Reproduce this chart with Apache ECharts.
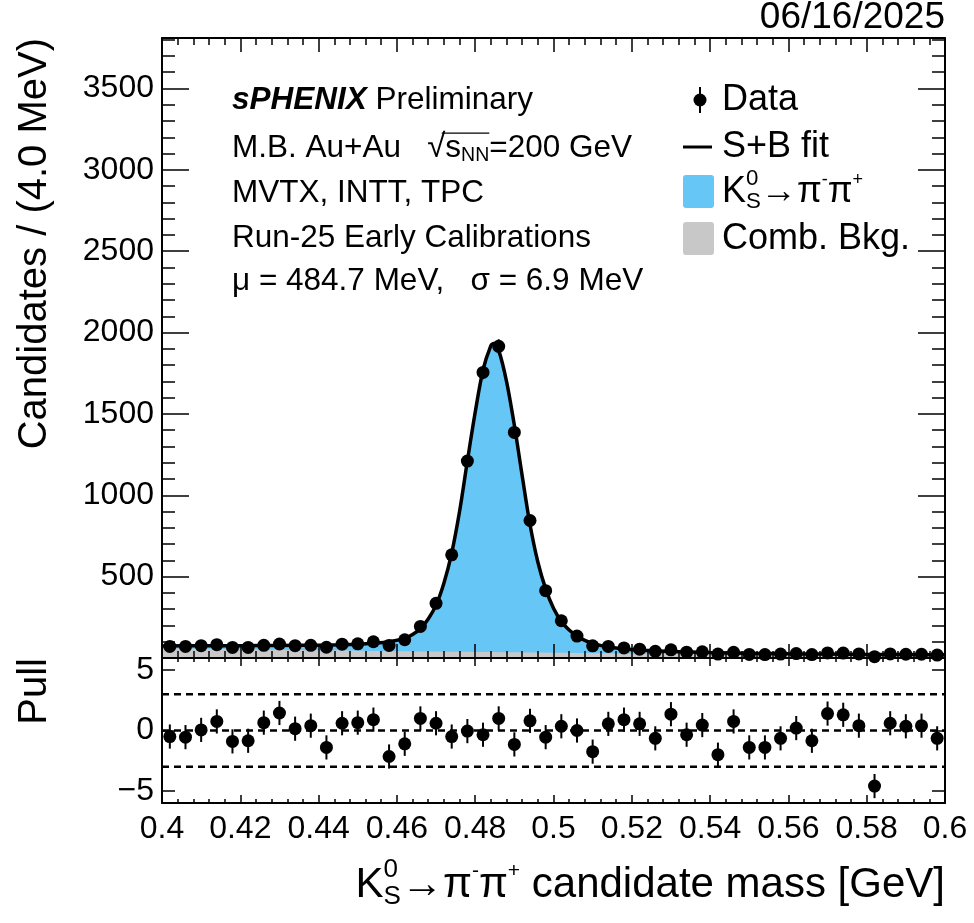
<!DOCTYPE html>
<html><head><meta charset="utf-8">
<script src="https://cdn.jsdelivr.net/npm/echarts@6/dist/echarts.min.js"></script>
<style>html,body{margin:0;padding:0;background:#fff;}#c{width:974px;height:923px;}</style>
</head><body><div id="c"></div><script>
// ---------- data ----------
const binCenters = [0.402,0.406,0.410,0.414,0.418,0.422,0.426,0.430,0.434,0.438,
  0.442,0.446,0.450,0.454,0.458,0.462,0.466,0.470,0.474,0.478,
  0.482,0.486,0.490,0.494,0.498,0.502,0.506,0.510,0.514,0.518,
  0.522,0.526,0.530,0.534,0.538,0.542,0.546,0.550,0.554,0.558,
  0.562,0.566,0.570,0.574,0.578,0.582,0.586,0.590,0.594,0.598];
const counts = [71,71,76,82,65,65,78,86,76,78,
  66,85,87,100,77,112,194,336,634,1210,
  1755,1915,1386,845,414,229,135,75,71,62,
  54,41,50,36,38,24,35,22,21,24,
  27,21,31,30,25,8,25,23,23,18];
const countErrors = [8.4,8.4,8.7,9.1,8.1,8.1,8.8,9.3,8.7,8.8,
  8.1,9.2,9.3,10,8.8,10.6,13.9,18.3,25.2,34.8,
  41.9,43.8,37.2,29.1,20.3,15.1,11.6,8.7,8.4,7.9,
  7.3,6.4,7.1,6.0,6.2,4.9,5.9,4.7,4.6,4.9,
  5.2,4.6,5.6,5.5,5.0,2.8,5.0,4.8,4.8,4.2];
const pulls = [-0.5,-0.55,0.05,0.75,-0.9,-0.85,0.65,1.45,0.15,0.4,
  -1.4,0.6,0.65,0.9,-2.15,-1.1,1.0,0.6,-0.5,-0.05,
  -0.35,1.0,-1.15,0.8,-0.55,0.35,0,-1.75,0.55,0.9,
  0.55,-0.65,1.35,-0.35,0.45,-2.0,0.75,-1.4,-1.4,-0.65,
  0.2,-0.85,1.4,1.3,0.4,-4.6,0.6,0.35,0.4,-0.65];
const pullErrors = [1,1,1,1,1,1,1,1,1,1, 1,1,1,1,1,1,1,1,1,1, 1,1,1,1,1,1,1,1,1,1,
  1,1,1,1,1,1,1,1,1,1, 1,1,1,1,1,1,1,1,1,1];
const fitX = [0.400,0.410,0.420,0.430,0.440,0.446,0.450,0.454,0.458,0.462,0.464,0.466,0.468,0.470,
  0.472,0.474,0.476,0.478,0.480,0.482,0.484,0.4847,0.486,0.488,0.490,0.492,0.494,0.496,0.498,
  0.500,0.502,0.504,0.506,0.508,0.510,0.514,0.518,0.522,0.526,0.530,0.540,0.550,0.560,0.570,
  0.580,0.590,0.600];
const fitY = [74,75,76,77,79,81,84,90,100,122,145,180,240,325,
  460,645,900,1210,1510,1770,1920,1932,1890,1700,1430,1120,820,590,425,
  305,224,172,135,108,90,67,56,49,44,40,34,29,26,24,
  22,21,20];
const bkgX = [0.400,0.425,0.450,0.475,0.500,0.525,0.550,0.575,0.600];
const bkgY = [60,52,45,38,32,26,22,18,15];
const pullRefLines = [3,0,-3];
const pullTickValues = [-5,0,5];
const countTickValues = [500,1000,1500,2000,2500,3000,3500];

// ---------- helpers ----------
const FONT = "'Liberation Sans', Arial, Helvetica, sans-serif";
const cv = document.createElement('canvas').getContext('2d');
function tw(t, size, weight, style){ cv.font = (style||'normal')+' '+(weight||'normal')+' '+size+'px '+FONT; return cv.measureText(t).width; }
function textLine(x, y, parts, align, out){
  let w = 0; const items = [];
  parts.forEach(p => { const width = tw(p.t, p.size, p.weight, p.style); items.push(Object.assign({}, p, {ox:w, w:width})); if(!p.overlay) w += width; });
  const x0 = align === 'right' ? x - w : x;
  let ox1 = null, ox2 = null, oy = null;
  items.forEach(p => {
    out.push({type:'text', x:x0+p.ox, y:y+(p.dy||0), z:100,
      style:{text:p.t, fill:'#000', align:'left', verticalAlign:'middle',
        font:(p.style||'normal')+' '+(p.weight||'normal')+' '+p.size+'px '+FONT}});
    if(p.over){ ox2 = x0+p.ox+p.w; }
    if(p.root){ oy = y - p.size*0.45; ox1 = x0+p.ox+p.w*0.8; }
  });
  if(oy !== null && ox2 !== null){
    out.push({type:'line', z:100, shape:{x1:ox1, y1:oy, x2:ox2, y2:oy}, style:{stroke:'#000', lineWidth:1.3}});
  }
}

const graphics = [];
textLine(945, 18, [{t:'06/16/2025', size:37}], 'right', graphics);
const TS = 31.5;
textLine(232, 100, [{t:'sPHENIX', size:TS, weight:'bold', style:'italic'},{t:' Preliminary', size:TS}], 'left', graphics);
textLine(232, 148, [{t:'M.B. Au+Au   ', size:TS},{t:'\u221A', size:TS*1.05, root:true},{t:'s', size:TS, over:true},{t:'NN', size:TS*0.62, dy:8, over:true},{t:'=200 GeV', size:TS}], 'left', graphics);
textLine(232, 193, [{t:'MVTX, INTT, TPC', size:TS}], 'left', graphics);
textLine(232, 238, [{t:'Run-25 Early Calibrations', size:TS}], 'left', graphics);
textLine(232, 281, [{t:'\u03BC = 484.7 MeV,   \u03C3 = 6.9 MeV', size:TS}], 'left', graphics);
const LS = 36, LX = 722;
graphics.push({type:'line', z:100, shape:{x1:700,y1:87,x2:700,y2:113}, style:{stroke:'#000', lineWidth:2}});
graphics.push({type:'circle', z:100, shape:{cx:700,cy:100,r:6.5}, style:{fill:'#000'}});
textLine(LX, 100, [{t:'Data', size:LS}], 'left', graphics);
graphics.push({type:'line', z:100, shape:{x1:683,y1:147,x2:712,y2:147}, style:{stroke:'#000', lineWidth:3}});
textLine(LX, 147, [{t:'S+B fit', size:LS}], 'left', graphics);
graphics.push({type:'rect', z:100, shape:{x:683,y:175,width:31,height:33,r:3}, style:{fill:'#66c6f6'}});
textLine(LX, 192, [{t:'K', size:LS},{t:'0', size:LS*0.62, dy:-13, overlay:true},{t:'S', size:LS*0.62, dy:10},{t:'\u2192\u03C0', size:LS},{t:'-', size:LS*0.5, dy:-12},{t:'\u03C0', size:LS},{t:'+', size:LS*0.5, dy:-12}], 'left', graphics);
graphics.push({type:'rect', z:100, shape:{x:683,y:222,width:31,height:33,r:3}, style:{fill:'#c8c8c8'}});
textLine(LX, 239, [{t:'Comb. Bkg.', size:LS}], 'left', graphics);
const XS = 42;
textLine(945, 885, [{t:'K', size:XS},{t:'0', size:XS*0.62, dy:-15, overlay:true},{t:'S', size:XS*0.62, dy:12},{t:'\u2192\u03C0', size:XS},{t:'-', size:XS*0.5, dy:-14},{t:'\u03C0', size:XS},{t:'+', size:XS*0.5, dy:-14},{t:' candidate mass [GeV]', size:XS}], 'right', graphics);
graphics.push({type:'text', z:100, x:35, y:38, rotation:Math.PI/2, style:{text:'Candidates / (4.0 MeV)', fill:'#000', align:'right', verticalAlign:'middle', font:'normal 40px '+FONT}});
graphics.push({type:'text', z:100, x:35, y:658, rotation:Math.PI/2, style:{text:'Pull', fill:'#000', align:'right', verticalAlign:'middle', font:'normal 40px '+FONT}});

// ---------- axes ----------
const LBL = {fontFamily:FONT, fontSize:32, color:'#000'};
function xAx(grid, pos, showLabel, tl){
  return {type:'value', gridIndex:grid, position:pos, min:0.4, max:0.6, interval:0.02, z:10,
    axisLine:{onZero:false, lineStyle:{color:'#000', width:2}},
    axisTick:{inside:true, length:tl, lineStyle:{color:'#000', width:1.5}},
    minorTick:{show:true, splitNumber:5, length:tl/2, lineStyle:{color:'#000', width:1.5}},
    splitLine:{show:false}, minorSplitLine:{show:false},
    axisLabel:Object.assign({show:showLabel, margin:10, formatter:v=>String(+v.toFixed(2))}, LBL)};
}
function yAxU(pos, showLabel){
  return {type:'value', gridIndex:0, position:pos, min:0, max:3810, interval:500, z:10,
    axisLine:{onZero:false, lineStyle:{color:'#000', width:2}},
    axisTick:{inside:true, length:27, lineStyle:{color:'#000', width:1.5}},
    minorTick:{show:true, splitNumber:5, length:13, lineStyle:{color:'#000', width:1.5}},
    splitLine:{show:false}, minorSplitLine:{show:false},
    axisLabel:Object.assign({show:showLabel, margin:8, customValues:countTickValues, formatter:v=>String(v)}, LBL)};
}
function yAxP(pos, showLabel){
  return {type:'value', gridIndex:1, position:pos, min:-6, max:6, z:10,
    axisLine:{onZero:false, lineStyle:{color:'#000', width:2}},
    axisTick:{inside:true, length:13, customValues:pullTickValues, lineStyle:{color:'#000', width:1.5}},
    splitLine:{show:false},
    axisLabel:Object.assign({show:showLabel, margin:8, customValues:pullTickValues, formatter:v=> v<0 ? '\u2212'+Math.abs(v) : String(v)}, LBL)};
}

const chart = echarts.init(document.getElementById('c'), null, {renderer:'canvas'});
const errRender = function(params, api){
  const x = api.value(0), y = api.value(1), e = api.value(2);
  const p1 = api.coord([x, y - e]), p2 = api.coord([x, y + e]);
  return {type:'line', shape:{x1:p1[0], y1:p1[1], x2:p2[0], y2:p2[1]}, style:{stroke:'#000', lineWidth:2}};
};
chart.setOption({
  animation:false,
  backgroundColor:'#fff',
  grid:[{left:162, top:38, width:783, height:620}, {left:162, top:658, width:783, height:145}],
  xAxis:[xAx(0,'bottom',false,14), xAx(0,'top',false,14), xAx(1,'bottom',true,8), xAx(1,'top',false,8)],
  yAxis:[yAxU('left',true), yAxU('right',false), yAxP('left',true), yAxP('right',false)],
  graphic:graphics,
  series:[
    {type:'line', xAxisIndex:0, yAxisIndex:0, z:1, data:fitX.map((x,i)=>[x,fitY[i]]), smooth:0.3, symbol:'none',
      lineStyle:{width:0}, areaStyle:{color:'#66c6f6', opacity:1}},
    {type:'line', xAxisIndex:0, yAxisIndex:0, z:2, data:bkgX.map((x,i)=>[x,bkgY[i]]), smooth:0.3, symbol:'none',
      lineStyle:{width:0}, areaStyle:{color:'#c8c8c8', opacity:1}},
    {type:'line', xAxisIndex:0, yAxisIndex:0, z:3, data:fitX.map((x,i)=>[x,fitY[i]]), smooth:0.3, symbol:'none',
      lineStyle:{color:'#000', width:3.5}},
    {type:'custom', xAxisIndex:0, yAxisIndex:0, z:4, renderItem:errRender, encode:{x:0, y:1},
      data:binCenters.map((x,i)=>[x,counts[i],countErrors[i]])},
    {type:'scatter', xAxisIndex:0, yAxisIndex:0, z:5, symbol:'circle', symbolSize:13, itemStyle:{color:'#000', opacity:1},
      data:binCenters.map((x,i)=>[x,counts[i]])},
    ...pullRefLines.map(v => ({type:'line', xAxisIndex:2, yAxisIndex:2, z:3, symbol:'none', data:[[0.4,v],[0.6,v]],
      lineStyle:{color:'#000', width:2.5, type:[7,5]}})),
    {type:'custom', xAxisIndex:2, yAxisIndex:2, z:4, renderItem:errRender, encode:{x:0, y:1},
      data:binCenters.map((x,i)=>[x,pulls[i],pullErrors[i]])},
    {type:'scatter', xAxisIndex:2, yAxisIndex:2, z:5, symbol:'circle', symbolSize:13, itemStyle:{color:'#000', opacity:1},
      data:binCenters.map((x,i)=>[x,pulls[i]])}
  ]
});
</script></body></html>
